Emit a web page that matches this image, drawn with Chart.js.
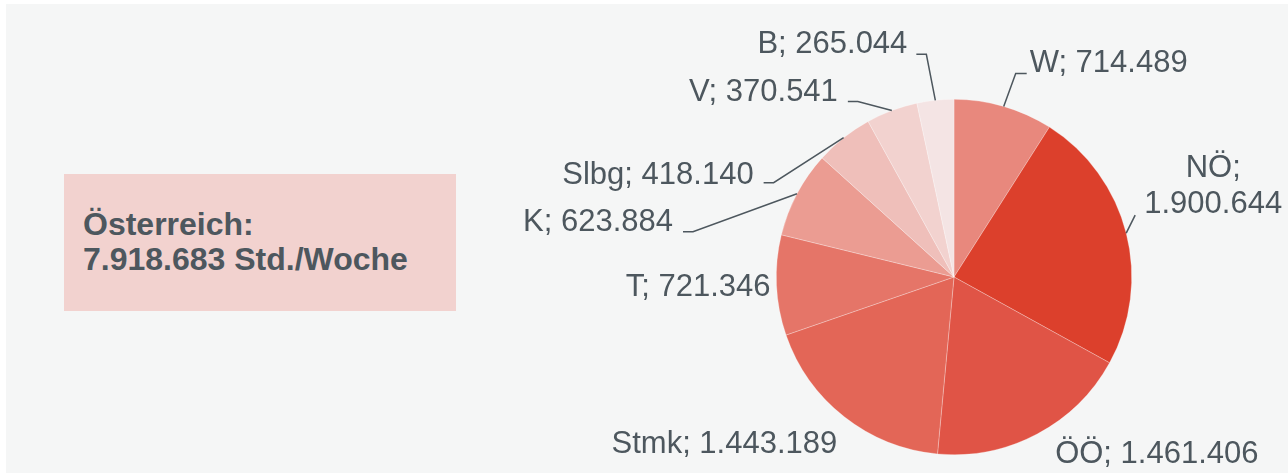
<!DOCTYPE html>
<html>
<head>
<meta charset="utf-8">
<script src="https://cdn.jsdelivr.net/npm/chart.js@4"></script>
<style>
  html, body { margin: 0; padding: 0; background: #ffffff; }
  #frame { position: absolute; left: 6px; top: 4px; width: 1282px; height: 469px; background: #f5f6f6; }
  #wrap { position: absolute; left: 0; top: 0; width: 1288px; height: 473px; }
  #total {
    position: absolute; left: 64px; top: 174px; width: 392px; height: 137px;
    background: #f2d2cf; color: #4d575e;
    font: bold 32px "Liberation Sans", Arial, sans-serif; line-height: 35px;
  }
  #total div { position: absolute; left: 19px; top: 33px; white-space: nowrap; }
</style>
</head>
<body>
<div id="frame"></div>
<div id="total"><div>Österreich:<br>7.918.683 Std./Woche</div></div>
<div id="wrap"><canvas id="pie" width="1288" height="473"></canvas></div>
<script>
const regions = ["W", "NÖ", "ÖÖ", "Stmk", "T", "K", "Slbg", "V", "B"];
const hours = [714489, 1900644, 1461406, 1443189, 721346, 623884, 418140, 370541, 265044];
const sliceColors = ["#e8887d", "#dc402c", "#e05446", "#e36657", "#e57568", "#eb9c92", "#efbfba", "#f2d2cf", "#f4e4e4"];

function fmt(v) {
  return v.toString().replace(/\B(?=(\d{3})+(?!\d))/g, ".");
}

// label placement relative to the slice's anchor on the outer edge
// elbow: leader bend, run: horizontal leader, text: offset from leader end
const labelLayout = [
  { elbow: [12, -33], run: 11, text: [3, -1], align: "left" },
  { elbow: [9, -18], run: 0, text: [78, -38], align: "center", split: true },
  { elbow: null, text: [18, 29], align: "left" },
  { elbow: null, text: [-7, 36], align: "right" },
  { elbow: null, text: [-6, 11], align: "right" },
  { elbow: [-104, 38], run: -10, text: [-10, -1], align: "right" },
  { elbow: [-70, 45], run: -10, text: [-10, 1], align: "right" },
  { elbow: [-34, -9], run: -10, text: [-10, -1], align: "right" },
  { elbow: [-9, -46], run: -10, text: [-9, -1], align: "right" }
];

const sliceLabels = {
  id: "sliceLabels",
  afterDatasetsDraw(chart) {
    const ctx = chart.ctx;
    const meta = chart.getDatasetMeta(0);
    ctx.save();
    ctx.fillStyle = "#4d575e";
    ctx.strokeStyle = "#4d575e";
    ctx.lineWidth = 1.5;
    ctx.font = "31px 'Liberation Sans', Arial, sans-serif";
    ctx.textBaseline = "alphabetic";
    meta.data.forEach((arc, i) => {
      const p = arc.getProps(["x", "y", "startAngle", "endAngle", "outerRadius"], true);
      const mid = (p.startAngle + p.endAngle) / 2;
      const ax = p.x + Math.cos(mid) * p.outerRadius;
      const ay = p.y + Math.sin(mid) * p.outerRadius;
      const lay = labelLayout[i];
      let ex = ax, ey = ay;
      if (lay.elbow) {
        ex = ax + lay.elbow[0];
        ey = ay + lay.elbow[1];
        ctx.beginPath();
        ctx.moveTo(ax, ay);
        ctx.lineTo(ex, ey);
        ex += lay.run;
        ctx.lineTo(ex, ey);
        ctx.stroke();
      }
      const tx = ex + lay.text[0];
      const ty = ey + lay.text[1];
      ctx.textAlign = lay.align;
      if (lay.split) {
        ctx.fillText(regions[i] + ";", tx, ty);
        ctx.fillText(fmt(hours[i]), tx, ty + 36);
      } else {
        ctx.fillText(regions[i] + "; " + fmt(hours[i]), tx, ty);
      }
    });
    ctx.restore();
  }
};

new Chart(document.getElementById("pie"), {
  type: "pie",
  data: {
    labels: regions,
    datasets: [{
      data: hours,
      backgroundColor: sliceColors,
      borderColor: "rgba(255,255,255,0.45)",
      borderWidth: 0.6
    }]
  },
  options: {
    responsive: false,
    animation: false,
    layout: { padding: { left: 776, right: 156, top: 99, bottom: 18 } },
    plugins: {
      legend: { display: false },
      tooltip: { enabled: false }
    }
  },
  plugins: [sliceLabels]
});
</script>
</body>
</html>
